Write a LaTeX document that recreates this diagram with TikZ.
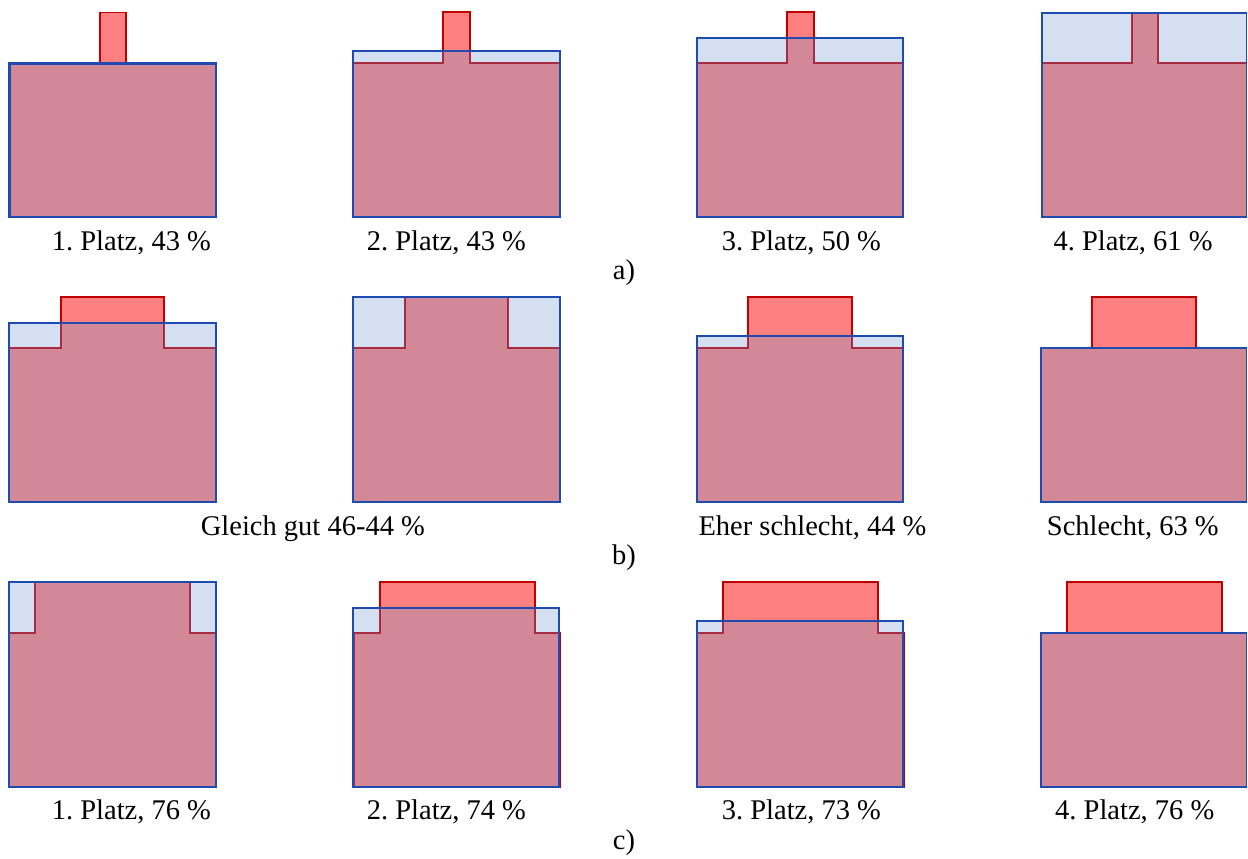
\documentclass[tikz,border=0pt]{standalone}
\usepackage{fontspec}
\setmainfont{Liberation Serif}
\newfontfamily\lblfont{Liberation Serif}
\frenchspacing
\definecolor{tabred}{RGB}{255,128,128}
\definecolor{linered}{RGB}{192,0,0}
\definecolor{mutedred}{RGB}{166,44,66}
\definecolor{lightblue}{RGB}{212,224,242}
\definecolor{mauve}{RGB}{211,136,151}
\definecolor{lineblue}{RGB}{30,75,175}
\tikzset{
  lw/.style={line width=1.8bp, line join=miter},
  lbl/.style={anchor=base west, inner sep=0pt, font=\lblfont\fontsize{28.6}{34}\selectfont},
  rowlbl/.style={anchor=base, inner sep=0pt, font=\lblfont\fontsize{28.6}{34}\selectfont}
}
% #1: blue rectangle path, #2: red polygon path
\newcommand\panel[2]{%
  \fill[lightblue] #1;
  \fill[tabred] #2;
  \begin{scope}\clip #1; \fill[mauve] #2; \end{scope}
  \draw[lw, linered] #2;
  \begin{scope}\clip #1; \draw[lw, mutedred] #2; \end{scope}
  \draw[lw, lineblue] #1;}
% red polygon: #1 left, #2 right, #3 body top, #4 bottom, #5 tab left, #6 tab right, #7 tab top
\newcommand\rp[7]{(#1,#4) -- (#1,#3) -- (#5,#3) -- (#5,#7) -- (#6,#7) -- (#6,#3) -- (#2,#3) -- (#2,#4) -- cycle}
\begin{document}
\begin{tikzpicture}[x=1bp,y=-1bp]
\useasboundingbox (0,0) rectangle (1248,859);
% ---------- row a ----------
\panel{(9.4,63.4) rectangle (215.9,217.2)}{\rp{9.4}{215.9}{63.4}{217.2}{100}{126}{12.5}}
\draw[line width=2.2bp, lineblue] (9.4,63.4) rectangle (215.9,217.2);
\panel{(353.3,51) rectangle (560,217.2)}{\rp{353.3}{560}{63.3}{217.2}{443.3}{470}{12.3}}
\panel{(697.3,38.3) rectangle (903.3,217.3)}{\rp{697.3}{903.3}{63.3}{217.3}{787.3}{814}{12.3}}
\panel{(1041.7,12.7) rectangle (1246.5,217.3)}{\rp{1041.7}{1246.5}{63.3}{217.3}{1131.7}{1157.7}{12.7}}
\node[lbl] (a1) at (51.7,250) {1. Platz, 43 \%};
\node[lbl] (a2) at (366.7,250) {2. Platz, 43 \%};
\node[lbl] (a3) at (721.7,250) {3. Platz, 50 \%};
\node[lbl] (a4) at (1053.3,250) {4. Platz, 61 \%};
\node[rowlbl] (ra) at (624,279) {a)};
% ---------- row b ----------
\panel{(9.3,323.3) rectangle (216,501.7)}{\rp{9.3}{216}{348.3}{501.7}{60.7}{164}{297.3}}
\panel{(353.3,297.3) rectangle (560,501.7)}{\rp{353.3}{560}{348.3}{501.7}{405}{507.7}{297.3}}
\panel{(697.3,336) rectangle (903.3,501.7)}{\rp{697.3}{903.3}{348.3}{501.7}{748.3}{851.7}{297.3}}
\panel{(1040.7,348.3) rectangle (1246.5,501.7)}{\rp{1040.7}{1246.5}{348.3}{501.7}{1092.3}{1195.7}{297.3}}
\node[lbl] (b12) at (200.7,535) {Gleich gut 46-44 \%};
\node[lbl] (b3) at (698.3,535) {Eher schlecht, 44 \%};
\node[lbl] (b4) at (1046.7,535) {Schlecht, 63 \%};
\node[rowlbl] (rb) at (624,564) {b)};
% ---------- row c ----------
\panel{(9.3,582.3) rectangle (216,786.7)}{\rp{9.3}{216}{632.7}{786.7}{35}{190}{582.3}}
\panel{(353.3,607.7) rectangle (559.3,786.7)}{\rp{354.3}{560.3}{632.7}{786.7}{380}{535}{582.3}}
\panel{(696.7,621) rectangle (902.7,786.7)}{\rp{697.3}{903.7}{632.7}{786.7}{722.7}{877.7}{582.3}}
\panel{(1040.7,633.3) rectangle (1246.5,786.7)}{\rp{1040.7}{1246.5}{633.3}{786.7}{1066.7}{1221.7}{582.3}}
\node[lbl] (c1) at (51.7,819.5) {1. Platz, 76 \%};
\node[lbl] (c2) at (366.7,819.5) {2. Platz, 74 \%};
\node[lbl] (c3) at (721.7,819.5) {3. Platz, 73 \%};
\node[lbl] (c4) at (1055,819.5) {4. Platz, 76 \%};
\node[rowlbl] (rc) at (624,849) {c)};
\end{tikzpicture}
\end{document}
